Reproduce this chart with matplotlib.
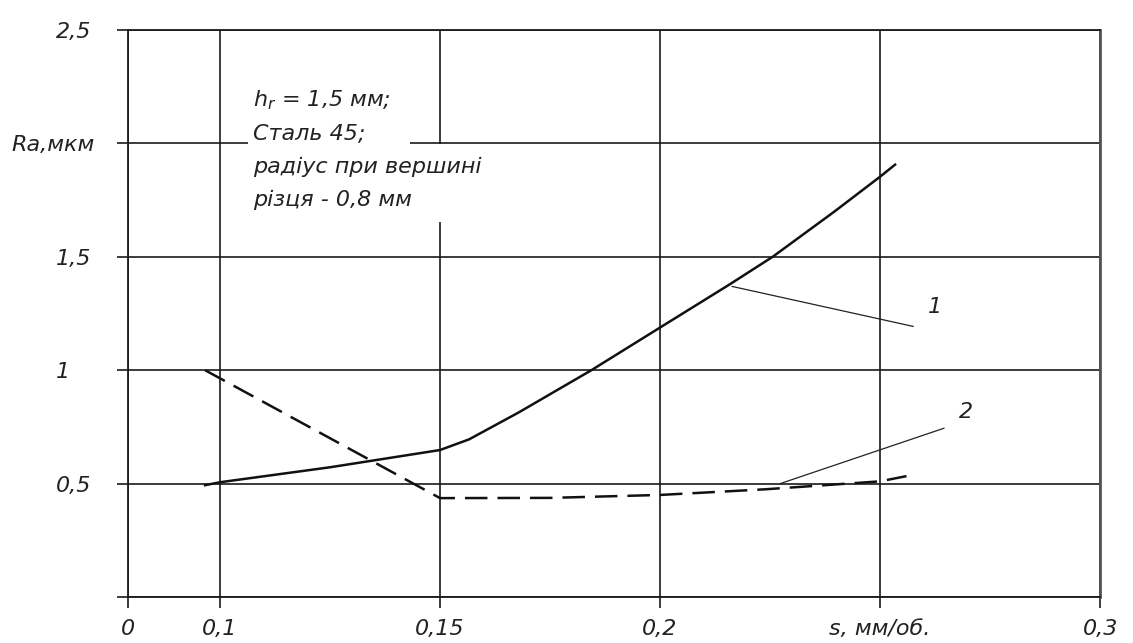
import matplotlib
matplotlib.use("Agg")
import matplotlib.pyplot as plt
from matplotlib.transforms import ScaledTranslation
from matplotlib.patches import Rectangle

plt.rcParams['font.family'] = ['DejaVu Sans']
plt.rcParams['font.style'] = 'italic'
plt.rcParams['mathtext.fontset'] = 'dejavusans'

# ---- data ----
s1 = [0.0966, 0.1, 0.125, 0.15, 0.1566, 0.1679, 0.1844, 0.2, 0.2158, 0.2256, 0.2396, 0.25, 0.2534]
ra1 = [0.493, 0.506, 0.572, 0.648, 0.695, 0.814, 1.0, 1.188, 1.378, 1.5, 1.699, 1.853, 1.906]

s2 = [0.0966, 0.15, 0.175, 0.2, 0.224, 0.25, 0.256]
ra2 = [1.00, 0.436, 0.437, 0.45, 0.475, 0.51, 0.533]

x_ticks = [0.0791, 0.1, 0.15, 0.2, 0.25, 0.3]
x_labels = ["0", "0,1", "0,15", "0,2", "s, мм/об.", "0,3"]
y_ticks = [0, 0.5, 1, 1.5, 2, 2.5]
y_labels = ["", "0,5", "1", "1,5", "Ra,мкм", "2,5"]

note_lines = [r"$h_r$ = 1,5 мм;", "Сталь 45;", "радіус при вершині", "різця - 0,8 мм"]
curve_labels = ["1", "2"]

TXT = '#222222'

# ---- figure ----
fig = plt.figure(figsize=(11.33, 6.43), dpi=100)
ax = fig.add_axes([0.113, 0.0715, 0.858, 0.882])
ax.set_xlim(x_ticks[0], x_ticks[-1])
ax.set_ylim(0, 2.5)

ax.set_xticks(x_ticks)
ax.set_xticklabels(x_labels)
ax.set_yticks(y_ticks)
ax.set_yticklabels(y_labels)

ax.tick_params(axis='x', direction='out', length=8, width=1.2, pad=8,
               labelsize=16, colors='#1a1a1a', labelcolor=TXT)
ax.tick_params(axis='y', direction='out', length=8, width=1.2, pad=44,
               labelsize=16, colors='#1a1a1a', labelcolor=TXT)
for lab in ax.get_yticklabels():
    lab.set_ha('left')
    lab.set_fontstyle('italic')
for lab in ax.get_xticklabels():
    lab.set_fontstyle('italic')
# shift "Ra,мкм" further left
ra_lab = ax.get_yticklabels()[4]
ra_lab.set_transform(ra_lab.get_transform() + ScaledTranslation(-44/100, 0, fig.dpi_scale_trans))

ax.grid(True, color='#1a1a1a', linewidth=1.2)
ax.set_axisbelow(True)
for side in ['left', 'bottom', 'top']:
    ax.spines[side].set_color('#1a1a1a')
    ax.spines[side].set_linewidth(1.3)
ax.spines['right'].set_color('#555555')
ax.spines['right'].set_linewidth(2.0)

# white gaps in the grid behind the note
ax.add_patch(Rectangle((0.1064, 1.97), 0.0368, 0.06, facecolor='white',
                       edgecolor='none', zorder=1))
ax.add_patch(Rectangle((0.1485, 1.655), 0.003, 0.34, facecolor='white',
                       edgecolor='none', zorder=1))

# curves
ax.plot(s1, ra1, color='#111111', linewidth=1.8, zorder=4)
ax.plot(s2, ra2, color='#111111', linewidth=1.8, dashes=(9, 4), zorder=4)

# leader lines and curve labels
ax.plot([0.2164, 0.2575], [1.369, 1.193], color='#222222', linewidth=0.9, zorder=4)
ax.plot([0.2273, 0.2645], [0.50, 0.744], color='#222222', linewidth=0.9, zorder=4)
ax.text(0.2625, 1.28, curve_labels[0], fontsize=16, ha='center', va='center',
        style='italic', color=TXT, zorder=5)
ax.text(0.2695, 0.814, curve_labels[1], fontsize=16, ha='center', va='center',
        style='italic', color=TXT, zorder=5)

# note text
note_y = [2.19, 2.04, 1.895, 1.75]
for txt, yy in zip(note_lines, note_y):
    ax.text(0.1075, yy, txt, fontsize=16, ha='left', va='center', style='italic',
            color=TXT, zorder=5)

fig.savefig("out.png", dpi=100)
